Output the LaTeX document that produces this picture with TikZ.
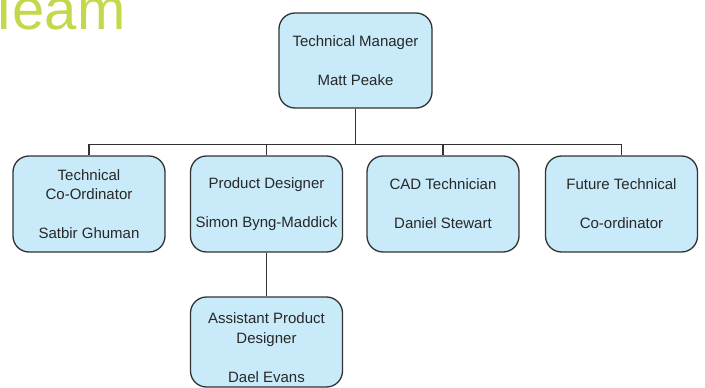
\documentclass[tikz,border=0pt]{standalone}
\usepackage{fontspec}
\setmainfont{Liberation Sans}
\definecolor{boxfill}{RGB}{200,234,249}
\definecolor{boxline}{RGB}{50,50,50}
\definecolor{txt}{RGB}{40,40,40}
\definecolor{titlegreen}{RGB}{196,216,74}
\begin{document}
\begin{tikzpicture}[x=1pt,y=-1pt,
  rolebox/.style={draw=boxline, line width=1.3pt, fill=boxfill, rounded corners=16pt,
    minimum width=152pt, minimum height=96pt, inner sep=0pt, align=center,
    text=txt, font=\fontsize{15}{19.5}\selectfont},
  link/.style={draw=boxline, line width=1.3pt}]
\useasboundingbox (0,0) rectangle (705,388);
\begin{scope}
\clip (0,0) rectangle (705,388);
\node[anchor=base west, inner sep=0pt, text=titlegreen,
  font=\fontsize{58}{60}\selectfont] (title) at (-14,30) {T\kern-9pt eam};
\end{scope}

\node[rolebox, minimum width=153pt, minimum height=95pt] (tm) at (355.5,60.5)
  {Technical Manager\\[19pt]Matt Peake};

\node[rolebox] (b1) at (89,204) {Technical\\Co-Ordinator\\[19.5pt]Satbir Ghuman};
\node[rolebox] (b2) at (266.5,204) {Product Designer\\[19.5pt]Simon Byng-Maddick};
\node[rolebox] (b3) at (443,204) {CAD Technician\\[19.5pt]Daniel Stewart};
\node[rolebox] (b4) at (621.5,204) {Future Technical\\[19.5pt]Co-ordinator};
\node[rolebox, minimum height=90pt] (b5) at (266.5,342)
  {\rule{0pt}{22pt}Assistant Product\\Designer\\[19.5pt]Dael Evans};

\draw[link] (tm.south) -- ++(0,36) coordinate (bus);
\draw[link] (b1.north) |- (bus) -| (b4.north);
\draw[link] (b2.north) -- (b2.north |- bus);
\draw[link] (b3.north) -- (b3.north |- bus);
\draw[link] (b2.south) -- (b5.north);
\end{tikzpicture}
\end{document}
